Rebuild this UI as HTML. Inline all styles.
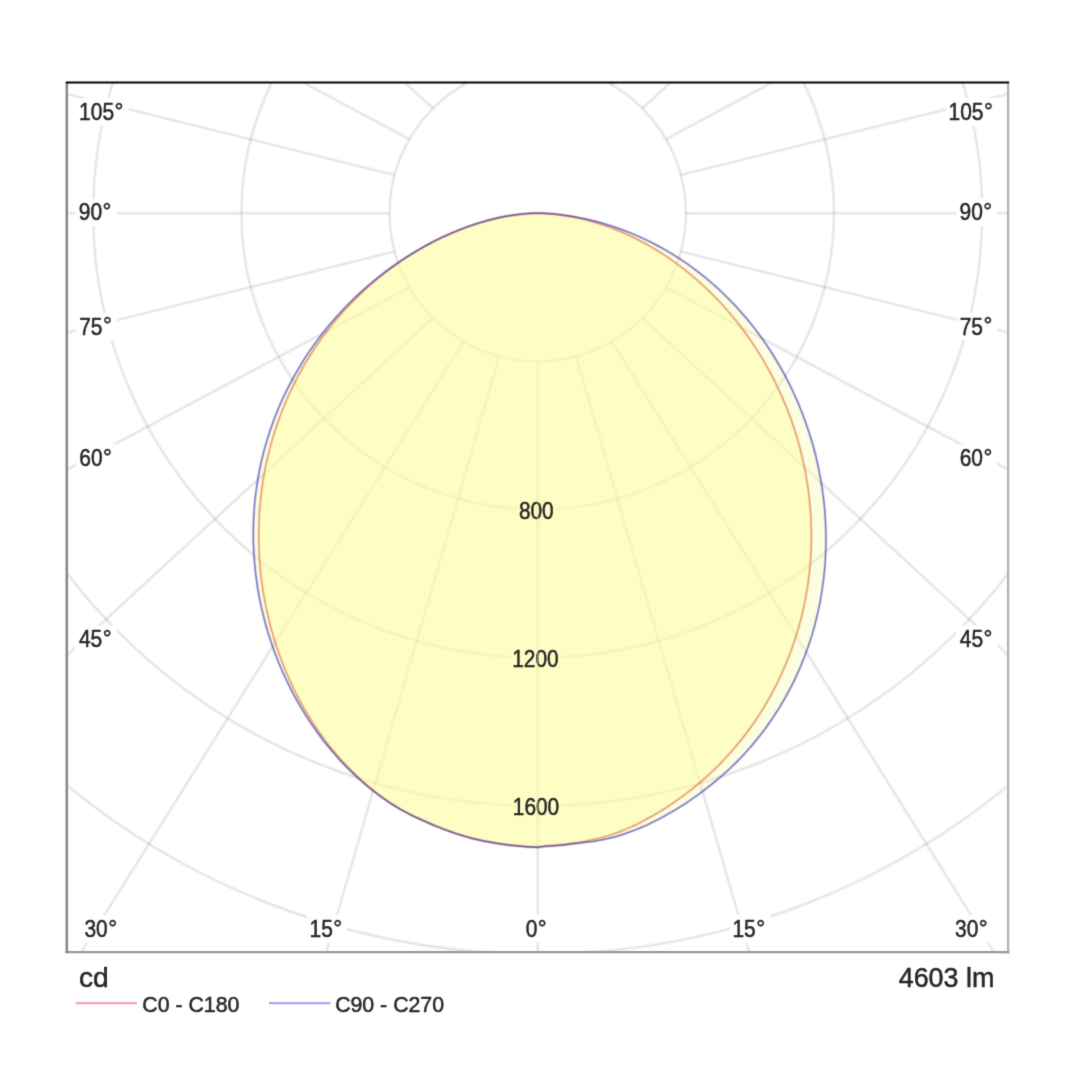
<!DOCTYPE html>
<html lang="en">
<head>
<meta charset="utf-8">
<title>Luminous intensity distribution</title>
<style>
html,body{margin:0;padding:0;background:#fff}
body{width:1080px;height:1080px;overflow:hidden}
svg{display:block}
text{font-family:"Liberation Sans",Arial,Helvetica,sans-serif;fill:#262626;stroke:#262626;stroke-width:0.5;stroke-linejoin:round}
</style>
</head>
<body>
<svg width="1080" height="1080" viewBox="0 0 1080 1080" role="img" aria-label="Polar luminous intensity distribution diagram">
<defs>
<clipPath id="fr"><rect x="66.8" y="82.5" width="941.3" height="869.7"/></clipPath>
<filter id="soft" x="0" y="0" width="1080" height="1080" filterUnits="userSpaceOnUse" color-interpolation-filters="sRGB"><feConvolveMatrix order="3" kernelMatrix="1 6 1 6 36 6 1 6 1" divisor="64" edgeMode="duplicate" preserveAlpha="true"/></filter>
</defs>
<rect width="1080" height="1080" fill="#fff"/>
<g id="chart">
<rect width="1080" height="1080" fill="#fff"/>
<g clip-path="url(#fr)">
<g fill="none" stroke="#000" stroke-opacity="0.044" stroke-width="3.6"><circle cx="537.7" cy="213.2" r="148.2"/><circle cx="537.7" cy="213.2" r="296.3"/><circle cx="537.7" cy="213.2" r="444.5"/><circle cx="537.7" cy="213.2" r="592.6"/><circle cx="537.7" cy="213.2" r="740.8"/></g>
<g fill="none" stroke="#000" stroke-opacity="0.066" stroke-width="1.5"><circle cx="537.7" cy="213.2" r="148.2"/><circle cx="537.7" cy="213.2" r="296.3"/><circle cx="537.7" cy="213.2" r="444.5"/><circle cx="537.7" cy="213.2" r="592.6"/><circle cx="537.7" cy="213.2" r="740.8"/></g>
<rect x="516.9" y="498.6" width="38.7" height="25.5" fill="#fff"/>
<rect x="510.3" y="647.0" width="50.5" height="25.5" fill="#fff"/>
<rect x="511.4" y="794.8" width="49.4" height="25.5" fill="#fff"/>
<g fill="none" stroke="#000" stroke-opacity="0.044" stroke-width="3.6"><line x1="499.4" y1="70.1" x2="137.0" y2="-1176.7"/><line x1="463.6" y1="84.9" x2="-236.4" y2="-1033.0"/><line x1="432.9" y1="108.4" x2="-557.0" y2="-804.3"/><line x1="409.4" y1="139.1" x2="-803.0" y2="-506.3"/><line x1="394.6" y1="174.9" x2="-957.7" y2="-159.2"/><line x1="389.6" y1="213.2" x2="-1010.4" y2="213.2"/><line x1="394.6" y1="251.5" x2="-957.7" y2="585.6"/><line x1="409.4" y1="287.3" x2="-803.0" y2="932.7"/><line x1="432.9" y1="318.0" x2="-557.0" y2="1230.7"/><line x1="463.6" y1="341.5" x2="-236.4" y2="1459.4"/><line x1="499.4" y1="356.3" x2="137.0" y2="1603.1"/><line x1="537.7" y1="361.4" x2="537.7" y2="1652.2"/><line x1="576.0" y1="356.3" x2="938.4" y2="1603.1"/><line x1="611.8" y1="341.5" x2="1311.8" y2="1459.4"/><line x1="642.5" y1="318.0" x2="1632.4" y2="1230.7"/><line x1="666.0" y1="287.3" x2="1878.4" y2="932.7"/><line x1="680.8" y1="251.5" x2="2033.1" y2="585.6"/><line x1="685.9" y1="213.2" x2="2085.8" y2="213.2"/><line x1="680.8" y1="174.9" x2="2033.1" y2="-159.2"/><line x1="666.0" y1="139.1" x2="1878.4" y2="-506.3"/><line x1="642.5" y1="108.4" x2="1632.4" y2="-804.3"/><line x1="611.8" y1="84.9" x2="1311.8" y2="-1033.0"/><line x1="576.0" y1="70.1" x2="938.4" y2="-1176.7"/><line x1="537.7" y1="65.0" x2="537.7" y2="-1225.8"/></g>
<g fill="none" stroke="#000" stroke-opacity="0.066" stroke-width="1.5"><line x1="499.4" y1="70.1" x2="137.0" y2="-1176.7"/><line x1="463.6" y1="84.9" x2="-236.4" y2="-1033.0"/><line x1="432.9" y1="108.4" x2="-557.0" y2="-804.3"/><line x1="409.4" y1="139.1" x2="-803.0" y2="-506.3"/><line x1="394.6" y1="174.9" x2="-957.7" y2="-159.2"/><line x1="389.6" y1="213.2" x2="-1010.4" y2="213.2"/><line x1="394.6" y1="251.5" x2="-957.7" y2="585.6"/><line x1="409.4" y1="287.3" x2="-803.0" y2="932.7"/><line x1="432.9" y1="318.0" x2="-557.0" y2="1230.7"/><line x1="463.6" y1="341.5" x2="-236.4" y2="1459.4"/><line x1="499.4" y1="356.3" x2="137.0" y2="1603.1"/><line x1="537.7" y1="361.4" x2="537.7" y2="1652.2"/><line x1="576.0" y1="356.3" x2="938.4" y2="1603.1"/><line x1="611.8" y1="341.5" x2="1311.8" y2="1459.4"/><line x1="642.5" y1="318.0" x2="1632.4" y2="1230.7"/><line x1="666.0" y1="287.3" x2="1878.4" y2="932.7"/><line x1="680.8" y1="251.5" x2="2033.1" y2="585.6"/><line x1="685.9" y1="213.2" x2="2085.8" y2="213.2"/><line x1="680.8" y1="174.9" x2="2033.1" y2="-159.2"/><line x1="666.0" y1="139.1" x2="1878.4" y2="-506.3"/><line x1="642.5" y1="108.4" x2="1632.4" y2="-804.3"/><line x1="611.8" y1="84.9" x2="1311.8" y2="-1033.0"/><line x1="576.0" y1="70.1" x2="938.4" y2="-1176.7"/><line x1="537.7" y1="65.0" x2="537.7" y2="-1225.8"/></g>
<rect x="76.5" y="98.1" width="52.0" height="27.8" fill="#fff"/>
<text transform="translate(79.09 120.00) scale(0.9000 1)" font-size="23.30" stroke-width="0.75">105<tspan font-size="24.70" dx="0.47" dy="-1.28">°</tspan></text>
<rect x="75.4" y="198.3" width="41.3" height="27.8" fill="#fff"/>
<text transform="translate(78.79 220.11) scale(0.9000 1)" font-size="23.30" stroke-width="0.75">90<tspan font-size="24.70" dx="0.47" dy="-1.28">°</tspan></text>
<rect x="76.1" y="312.8" width="40.8" height="27.8" fill="#fff"/>
<text transform="translate(79.21 334.63) scale(0.9000 1)" font-size="23.30" stroke-width="0.75">75<tspan font-size="24.70" dx="0.47" dy="-1.28">°</tspan></text>
<rect x="76.1" y="444.3" width="40.8" height="27.8" fill="#fff"/>
<text transform="translate(79.23 466.19) scale(0.9000 1)" font-size="23.30" stroke-width="0.75">60<tspan font-size="24.70" dx="0.47" dy="-1.28">°</tspan></text>
<rect x="74.8" y="625.6" width="42.1" height="27.8" fill="#fff"/>
<text transform="translate(78.92 647.48) scale(0.9000 1)" font-size="23.30" stroke-width="0.75">45<tspan font-size="24.70" dx="0.47" dy="-1.28">°</tspan></text>
<rect x="81.1" y="915.2" width="41.2" height="27.8" fill="#fff"/>
<text transform="translate(84.44 936.81) scale(0.9000 1)" font-size="23.30" stroke-width="0.75">30<tspan font-size="24.70" dx="0.47" dy="-1.28">°</tspan></text>
<rect x="307.1" y="914.9" width="39.9" height="27.8" fill="#fff"/>
<text transform="translate(309.50 936.81) scale(0.9000 1)" font-size="23.30" stroke-width="0.75">15<tspan font-size="24.70" dx="0.47" dy="-1.28">°</tspan></text>
<rect x="521.9" y="914.9" width="30.2" height="27.8" fill="#fff"/>
<text transform="translate(525.65 936.81) scale(0.9000 1)" font-size="23.30" stroke-width="0.75">0<tspan font-size="24.70" dx="0.47" dy="-1.28">°</tspan></text>
<rect x="946.2" y="98.1" width="51.5" height="27.8" fill="#fff"/>
<text transform="translate(948.54 120.00) scale(0.9000 1)" font-size="23.30" stroke-width="0.75">105<tspan font-size="24.70" dx="0.47" dy="-1.28">°</tspan></text>
<rect x="956.5" y="198.2" width="40.6" height="27.8" fill="#fff"/>
<text transform="translate(959.54 220.11) scale(0.9000 1)" font-size="23.30" stroke-width="0.75">90<tspan font-size="24.70" dx="0.47" dy="-1.28">°</tspan></text>
<rect x="956.8" y="312.6" width="40.3" height="27.8" fill="#fff"/>
<text transform="translate(959.66 334.63) scale(0.9000 1)" font-size="23.30" stroke-width="0.75">75<tspan font-size="24.70" dx="0.47" dy="-1.28">°</tspan></text>
<rect x="956.8" y="444.3" width="40.3" height="27.8" fill="#fff"/>
<text transform="translate(959.68 466.19) scale(0.9000 1)" font-size="23.30" stroke-width="0.75">60<tspan font-size="24.70" dx="0.47" dy="-1.28">°</tspan></text>
<rect x="956.0" y="625.6" width="41.3" height="27.8" fill="#fff"/>
<text transform="translate(959.72 647.48) scale(0.9000 1)" font-size="23.30" stroke-width="0.75">45<tspan font-size="24.70" dx="0.47" dy="-1.28">°</tspan></text>
<rect x="951.6" y="914.8" width="41.4" height="27.8" fill="#fff"/>
<text transform="translate(955.04 936.81) scale(0.9000 1)" font-size="23.30" stroke-width="0.75">30<tspan font-size="24.70" dx="0.47" dy="-1.28">°</tspan></text>
<rect x="730.0" y="914.9" width="39.9" height="27.8" fill="#fff"/>
<text transform="translate(732.40 936.81) scale(0.9000 1)" font-size="23.30" stroke-width="0.75">15<tspan font-size="24.70" dx="0.47" dy="-1.28">°</tspan></text>
<path d="M537.7 213.2 L533.3 213.3 L527.9 213.5 L522.1 214.0 L516.0 214.7 L509.7 215.7 L503.2 216.8 L496.4 218.3 L489.4 220.0 L482.2 222.0 L474.8 224.3 L467.2 226.9 L459.4 229.9 L451.5 233.1 L443.5 236.7 L435.3 240.7 L427.0 245.0 L418.7 249.7 L410.3 254.7 L402.0 260.0 L393.6 265.8 L385.3 271.8 L377.0 278.3 L368.9 285.0 L360.8 292.1 L353.0 299.5 L345.3 307.3 L337.8 315.3 L330.5 323.6 L323.5 332.2 L316.7 341.1 L310.2 350.2 L304.0 359.5 L298.2 369.1 L292.6 378.9 L287.4 388.9 L282.5 399.0 L278.0 409.3 L273.9 419.8 L270.1 430.4 L266.7 441.1 L263.7 451.9 L261.0 462.9 L258.8 473.9 L256.9 485.0 L255.4 496.1 L254.3 507.3 L253.6 518.5 L253.3 529.8 L253.3 541.1 L253.8 552.3 L254.6 563.6 L255.8 574.9 L257.3 586.1 L259.3 597.3 L261.6 608.4 L264.3 619.5 L267.3 630.5 L270.8 641.3 L274.5 652.1 L278.7 662.8 L283.2 673.3 L288.1 683.7 L293.3 693.9 L298.9 704.0 L304.8 713.8 L311.0 723.4 L317.6 732.8 L324.5 742.0 L331.8 750.8 L339.3 759.4 L347.2 767.7 L355.4 775.6 L363.8 783.2 L372.6 790.4 L381.6 797.2 L390.9 803.5 L400.4 809.3 L410.2 814.5 L415.1 816.9 L420.2 819.2 L425.2 821.4 L430.3 823.7 L435.4 825.9 L440.5 827.9 L445.7 829.9 L451.0 831.8 L456.2 833.6 L461.5 835.3 L466.8 836.9 L472.1 838.3 L477.5 839.6 L482.9 840.8 L488.3 841.8 L493.8 842.8 L499.2 843.7 L504.7 844.5 L510.2 845.2 L515.7 845.8 L521.2 846.3 L526.7 846.7 L532.2 847.0 L537.7 847.2 L543.2 846.6 L548.7 846.0 L554.3 845.7 L559.8 845.3 L565.3 844.7 L570.8 844.1 L576.2 843.4 L581.7 842.8 L587.2 842.1 L592.7 841.4 L598.1 840.5 L603.5 839.4 L608.9 838.3 L614.3 837.0 L619.6 835.5 L624.9 833.7 L630.2 831.8 L635.4 829.9 L640.5 827.8 L645.7 825.6 L650.8 823.2 L655.8 820.7 L660.8 818.1 L665.7 815.4 L675.4 809.8 L685.0 803.8 L694.3 797.5 L703.3 790.8 L712.2 783.9 L720.8 776.7 L729.2 769.2 L737.2 761.4 L745.0 753.2 L752.5 744.8 L759.6 736.0 L766.5 727.0 L772.9 717.7 L779.1 708.1 L784.9 698.3 L790.3 688.3 L795.4 678.1 L800.1 667.7 L804.4 657.0 L808.3 646.3 L811.9 635.4 L815.0 624.3 L817.7 613.1 L820.1 601.9 L822.0 590.5 L823.6 579.1 L824.8 567.7 L825.5 556.2 L825.9 544.8 L825.9 533.3 L825.5 521.8 L824.8 510.4 L823.6 499.1 L822.1 487.8 L820.2 476.7 L818.0 465.6 L815.5 454.7 L812.6 443.8 L809.3 433.2 L805.8 422.7 L801.9 412.3 L797.8 402.2 L793.3 392.2 L788.6 382.4 L783.6 372.9 L778.3 363.6 L772.8 354.5 L767.0 345.6 L761.0 337.0 L754.8 328.6 L748.3 320.5 L741.6 312.7 L734.7 305.1 L727.6 297.8 L720.4 290.7 L712.9 284.0 L705.3 277.5 L697.5 271.4 L689.6 265.5 L681.5 259.9 L673.2 254.6 L664.9 249.7 L656.4 245.0 L647.8 240.7 L639.2 236.6 L630.4 232.9 L621.7 229.5 L612.9 226.5 L604.2 223.7 L595.5 221.3 L586.9 219.2 L578.4 217.5 L570.2 216.0 L562.3 214.9 L554.9 214.1 L548.0 213.6 L542.0 213.3 L537.7 213.2Z" fill="rgba(249,252,166,0.35)" stroke="none"/>
<path d="M537.7 213.2 L533.6 213.3 L528.3 213.5 L522.5 214.0 L516.3 214.7 L509.9 215.6 L503.2 216.8 L496.3 218.3 L489.2 220.0 L481.9 222.1 L474.4 224.4 L466.8 227.0 L459.0 230.0 L451.2 233.2 L443.2 236.8 L435.2 240.7 L427.1 245.0 L419.0 249.6 L410.9 254.5 L402.8 259.7 L394.8 265.3 L386.8 271.2 L379.0 277.5 L371.2 284.0 L363.6 290.9 L356.1 298.1 L348.8 305.5 L341.7 313.3 L334.8 321.3 L328.2 329.6 L321.8 338.1 L315.6 346.9 L309.7 356.0 L304.1 365.2 L298.8 374.7 L293.8 384.4 L289.1 394.2 L284.7 404.3 L280.6 414.5 L276.9 424.9 L273.5 435.4 L270.4 446.1 L267.7 456.9 L265.3 467.7 L263.3 478.7 L261.7 489.8 L260.4 501.0 L259.4 512.3 L258.9 523.6 L258.7 534.9 L258.8 546.3 L259.4 557.7 L260.3 569.1 L261.5 580.5 L263.2 591.9 L265.2 603.2 L267.6 614.5 L270.3 625.8 L273.5 637.0 L277.0 648.0 L280.9 659.0 L285.1 669.8 L289.8 680.5 L294.8 691.0 L300.1 701.4 L305.8 711.5 L311.9 721.4 L318.4 731.1 L325.1 740.5 L332.3 749.6 L339.7 758.4 L347.5 766.8 L355.6 774.9 L364.0 782.7 L372.7 790.1 L381.6 797.0 L390.9 803.4 L400.4 809.3 L410.2 814.6 L415.1 817.0 L420.1 819.3 L425.2 821.6 L430.3 823.8 L435.4 826.0 L440.5 828.1 L445.7 830.1 L450.9 831.9 L456.2 833.7 L461.5 835.4 L466.8 837.0 L472.1 838.4 L477.5 839.7 L482.9 840.9 L488.3 841.9 L493.8 842.9 L499.2 843.7 L504.7 844.5 L510.2 845.2 L515.7 845.8 L521.2 846.3 L526.7 846.7 L532.2 847.0 L537.7 847.2 L543.2 846.6 L548.7 846.0 L554.3 845.5 L559.8 845.0 L565.3 844.4 L570.7 843.6 L576.2 842.7 L581.7 841.9 L587.1 840.9 L592.5 839.8 L597.9 838.6 L603.3 837.1 L608.6 835.6 L613.9 833.9 L619.2 832.0 L624.4 829.9 L629.5 827.6 L634.6 825.3 L639.7 822.8 L644.7 820.2 L649.7 817.5 L654.6 814.7 L659.5 811.8 L664.3 808.8 L673.8 802.6 L683.0 796.0 L692.0 789.1 L700.8 781.9 L709.3 774.3 L717.5 766.5 L725.4 758.3 L733.0 749.8 L740.3 741.0 L747.3 732.0 L754.0 722.7 L760.3 713.1 L766.3 703.4 L771.9 693.4 L777.2 683.2 L782.1 672.8 L786.6 662.3 L790.8 651.6 L794.6 640.8 L798.0 629.8 L801.1 618.7 L803.7 607.6 L805.9 596.3 L807.8 585.0 L809.3 573.6 L810.4 562.2 L811.1 550.8 L811.4 539.4 L811.3 527.9 L810.9 516.6 L810.0 505.2 L808.8 494.0 L807.3 482.8 L805.3 471.6 L803.0 460.6 L800.4 449.8 L797.5 439.0 L794.2 428.4 L790.6 418.0 L786.7 407.7 L782.4 397.6 L777.9 387.8 L773.2 378.1 L768.1 368.6 L762.9 359.4 L757.3 350.4 L751.6 341.7 L745.6 333.2 L739.5 325.0 L733.1 317.1 L726.6 309.4 L719.9 302.1 L713.1 295.0 L706.1 288.2 L699.0 281.7 L691.8 275.5 L684.6 269.6 L677.2 264.0 L669.8 258.7 L662.3 253.7 L654.7 249.0 L647.2 244.6 L639.6 240.5 L632.0 236.7 L624.4 233.2 L616.8 230.0 L609.3 227.1 L601.8 224.5 L594.4 222.2 L587.1 220.1 L580.0 218.4 L572.9 216.9 L566.0 215.7 L559.4 214.7 L553.0 214.0 L547.1 213.5 L541.7 213.3 L537.7 213.2Z" fill="rgba(255,252,160,0.45)" stroke="none"/>
<text transform="translate(518.91 518.84) scale(0.8950 1)" font-size="23.30" stroke-width="0.7" fill="#3e3a14" stroke="#3e3a14">800</text>
<text transform="translate(512.25 667.12) scale(0.8950 1)" font-size="23.30" stroke-width="0.7" fill="#3e3a14" stroke="#3e3a14">1200</text>
<text transform="translate(512.80 814.92) scale(0.8950 1)" font-size="23.30" stroke-width="0.7" fill="#3e3a14" stroke="#3e3a14">1600</text>
<line x1="537.7" y1="500.9" x2="537.7" y2="521.4" stroke="#e8e6b0" stroke-width="1.5" stroke-opacity="0.45"/>
<line x1="537.7" y1="649.6" x2="537.7" y2="669.3" stroke="#e8e6b0" stroke-width="1.5" stroke-opacity="0.45"/>
<line x1="537.7" y1="797.4" x2="537.7" y2="817.1" stroke="#e8e6b0" stroke-width="1.5" stroke-opacity="0.45"/>
<path d="M537.7 213.2 L533.6 213.3 L528.3 213.5 L522.5 214.0 L516.3 214.7 L509.9 215.6 L503.2 216.8 L496.3 218.3 L489.2 220.0 L481.9 222.1 L474.4 224.4 L466.8 227.0 L459.0 230.0 L451.2 233.2 L443.2 236.8 L435.2 240.7 L427.1 245.0 L419.0 249.6 L410.9 254.5 L402.8 259.7 L394.8 265.3 L386.8 271.2 L379.0 277.5 L371.2 284.0 L363.6 290.9 L356.1 298.1 L348.8 305.5 L341.7 313.3 L334.8 321.3 L328.2 329.6 L321.8 338.1 L315.6 346.9 L309.7 356.0 L304.1 365.2 L298.8 374.7 L293.8 384.4 L289.1 394.2 L284.7 404.3 L280.6 414.5 L276.9 424.9 L273.5 435.4 L270.4 446.1 L267.7 456.9 L265.3 467.7 L263.3 478.7 L261.7 489.8 L260.4 501.0 L259.4 512.3 L258.9 523.6 L258.7 534.9 L258.8 546.3 L259.4 557.7 L260.3 569.1 L261.5 580.5 L263.2 591.9 L265.2 603.2 L267.6 614.5 L270.3 625.8 L273.5 637.0 L277.0 648.0 L280.9 659.0 L285.1 669.8 L289.8 680.5 L294.8 691.0 L300.1 701.4 L305.8 711.5 L311.9 721.4 L318.4 731.1 L325.1 740.5 L332.3 749.6 L339.7 758.4 L347.5 766.8 L355.6 774.9 L364.0 782.7 L372.7 790.1 L381.6 797.0 L390.9 803.4 L400.4 809.3 L410.2 814.6 L415.1 817.0 L420.1 819.3 L425.2 821.6 L430.3 823.8 L435.4 826.0 L440.5 828.1 L445.7 830.1 L450.9 831.9 L456.2 833.7 L461.5 835.4 L466.8 837.0 L472.1 838.4 L477.5 839.7 L482.9 840.9 L488.3 841.9 L493.8 842.9 L499.2 843.7 L504.7 844.5 L510.2 845.2 L515.7 845.8 L521.2 846.3 L526.7 846.7 L532.2 847.0 L537.7 847.2 L543.2 846.6 L548.7 846.0 L554.3 845.5 L559.8 845.0 L565.3 844.4 L570.7 843.6 L576.2 842.7 L581.7 841.9 L587.1 840.9 L592.5 839.8 L597.9 838.6 L603.3 837.1 L608.6 835.6 L613.9 833.9 L619.2 832.0 L624.4 829.9 L629.5 827.6 L634.6 825.3 L639.7 822.8 L644.7 820.2 L649.7 817.5 L654.6 814.7 L659.5 811.8 L664.3 808.8 L673.8 802.6 L683.0 796.0 L692.0 789.1 L700.8 781.9 L709.3 774.3 L717.5 766.5 L725.4 758.3 L733.0 749.8 L740.3 741.0 L747.3 732.0 L754.0 722.7 L760.3 713.1 L766.3 703.4 L771.9 693.4 L777.2 683.2 L782.1 672.8 L786.6 662.3 L790.8 651.6 L794.6 640.8 L798.0 629.8 L801.1 618.7 L803.7 607.6 L805.9 596.3 L807.8 585.0 L809.3 573.6 L810.4 562.2 L811.1 550.8 L811.4 539.4 L811.3 527.9 L810.9 516.6 L810.0 505.2 L808.8 494.0 L807.3 482.8 L805.3 471.6 L803.0 460.6 L800.4 449.8 L797.5 439.0 L794.2 428.4 L790.6 418.0 L786.7 407.7 L782.4 397.6 L777.9 387.8 L773.2 378.1 L768.1 368.6 L762.9 359.4 L757.3 350.4 L751.6 341.7 L745.6 333.2 L739.5 325.0 L733.1 317.1 L726.6 309.4 L719.9 302.1 L713.1 295.0 L706.1 288.2 L699.0 281.7 L691.8 275.5 L684.6 269.6 L677.2 264.0 L669.8 258.7 L662.3 253.7 L654.7 249.0 L647.2 244.6 L639.6 240.5 L632.0 236.7 L624.4 233.2 L616.8 230.0 L609.3 227.1 L601.8 224.5 L594.4 222.2 L587.1 220.1 L580.0 218.4 L572.9 216.9 L566.0 215.7 L559.4 214.7 L553.0 214.0 L547.1 213.5 L541.7 213.3 L537.7 213.2Z" fill="none" stroke="#dd6a40" stroke-opacity="0.14" stroke-width="3.0" stroke-linejoin="miter"/>
<path d="M537.7 213.2 L533.3 213.3 L527.9 213.5 L522.1 214.0 L516.0 214.7 L509.7 215.7 L503.2 216.8 L496.4 218.3 L489.4 220.0 L482.2 222.0 L474.8 224.3 L467.2 226.9 L459.4 229.9 L451.5 233.1 L443.5 236.7 L435.3 240.7 L427.0 245.0 L418.7 249.7 L410.3 254.7 L402.0 260.0 L393.6 265.8 L385.3 271.8 L377.0 278.3 L368.9 285.0 L360.8 292.1 L353.0 299.5 L345.3 307.3 L337.8 315.3 L330.5 323.6 L323.5 332.2 L316.7 341.1 L310.2 350.2 L304.0 359.5 L298.2 369.1 L292.6 378.9 L287.4 388.9 L282.5 399.0 L278.0 409.3 L273.9 419.8 L270.1 430.4 L266.7 441.1 L263.7 451.9 L261.0 462.9 L258.8 473.9 L256.9 485.0 L255.4 496.1 L254.3 507.3 L253.6 518.5 L253.3 529.8 L253.3 541.1 L253.8 552.3 L254.6 563.6 L255.8 574.9 L257.3 586.1 L259.3 597.3 L261.6 608.4 L264.3 619.5 L267.3 630.5 L270.8 641.3 L274.5 652.1 L278.7 662.8 L283.2 673.3 L288.1 683.7 L293.3 693.9 L298.9 704.0 L304.8 713.8 L311.0 723.4 L317.6 732.8 L324.5 742.0 L331.8 750.8 L339.3 759.4 L347.2 767.7 L355.4 775.6 L363.8 783.2 L372.6 790.4 L381.6 797.2 L390.9 803.5 L400.4 809.3 L410.2 814.5 L415.1 816.9 L420.2 819.2 L425.2 821.4 L430.3 823.7 L435.4 825.9 L440.5 827.9 L445.7 829.9 L451.0 831.8 L456.2 833.6 L461.5 835.3 L466.8 836.9 L472.1 838.3 L477.5 839.6 L482.9 840.8 L488.3 841.8 L493.8 842.8 L499.2 843.7 L504.7 844.5 L510.2 845.2 L515.7 845.8 L521.2 846.3 L526.7 846.7 L532.2 847.0 L537.7 847.2 L543.2 846.6 L548.7 846.0 L554.3 845.7 L559.8 845.3 L565.3 844.7 L570.8 844.1 L576.2 843.4 L581.7 842.8 L587.2 842.1 L592.7 841.4 L598.1 840.5 L603.5 839.4 L608.9 838.3 L614.3 837.0 L619.6 835.5 L624.9 833.7 L630.2 831.8 L635.4 829.9 L640.5 827.8 L645.7 825.6 L650.8 823.2 L655.8 820.7 L660.8 818.1 L665.7 815.4 L675.4 809.8 L685.0 803.8 L694.3 797.5 L703.3 790.8 L712.2 783.9 L720.8 776.7 L729.2 769.2 L737.2 761.4 L745.0 753.2 L752.5 744.8 L759.6 736.0 L766.5 727.0 L772.9 717.7 L779.1 708.1 L784.9 698.3 L790.3 688.3 L795.4 678.1 L800.1 667.7 L804.4 657.0 L808.3 646.3 L811.9 635.4 L815.0 624.3 L817.7 613.1 L820.1 601.9 L822.0 590.5 L823.6 579.1 L824.8 567.7 L825.5 556.2 L825.9 544.8 L825.9 533.3 L825.5 521.8 L824.8 510.4 L823.6 499.1 L822.1 487.8 L820.2 476.7 L818.0 465.6 L815.5 454.7 L812.6 443.8 L809.3 433.2 L805.8 422.7 L801.9 412.3 L797.8 402.2 L793.3 392.2 L788.6 382.4 L783.6 372.9 L778.3 363.6 L772.8 354.5 L767.0 345.6 L761.0 337.0 L754.8 328.6 L748.3 320.5 L741.6 312.7 L734.7 305.1 L727.6 297.8 L720.4 290.7 L712.9 284.0 L705.3 277.5 L697.5 271.4 L689.6 265.5 L681.5 259.9 L673.2 254.6 L664.9 249.7 L656.4 245.0 L647.8 240.7 L639.2 236.6 L630.4 232.9 L621.7 229.5 L612.9 226.5 L604.2 223.7 L595.5 221.3 L586.9 219.2 L578.4 217.5 L570.2 216.0 L562.3 214.9 L554.9 214.1 L548.0 213.6 L542.0 213.3 L537.7 213.2Z" fill="none" stroke="#3030b0" stroke-opacity="0.14" stroke-width="3.0" stroke-linejoin="miter"/>
<path d="M537.7 213.2 L533.6 213.3 L528.3 213.5 L522.5 214.0 L516.3 214.7 L509.9 215.6 L503.2 216.8 L496.3 218.3 L489.2 220.0 L481.9 222.1 L474.4 224.4 L466.8 227.0 L459.0 230.0 L451.2 233.2 L443.2 236.8 L435.2 240.7 L427.1 245.0 L419.0 249.6 L410.9 254.5 L402.8 259.7 L394.8 265.3 L386.8 271.2 L379.0 277.5 L371.2 284.0 L363.6 290.9 L356.1 298.1 L348.8 305.5 L341.7 313.3 L334.8 321.3 L328.2 329.6 L321.8 338.1 L315.6 346.9 L309.7 356.0 L304.1 365.2 L298.8 374.7 L293.8 384.4 L289.1 394.2 L284.7 404.3 L280.6 414.5 L276.9 424.9 L273.5 435.4 L270.4 446.1 L267.7 456.9 L265.3 467.7 L263.3 478.7 L261.7 489.8 L260.4 501.0 L259.4 512.3 L258.9 523.6 L258.7 534.9 L258.8 546.3 L259.4 557.7 L260.3 569.1 L261.5 580.5 L263.2 591.9 L265.2 603.2 L267.6 614.5 L270.3 625.8 L273.5 637.0 L277.0 648.0 L280.9 659.0 L285.1 669.8 L289.8 680.5 L294.8 691.0 L300.1 701.4 L305.8 711.5 L311.9 721.4 L318.4 731.1 L325.1 740.5 L332.3 749.6 L339.7 758.4 L347.5 766.8 L355.6 774.9 L364.0 782.7 L372.7 790.1 L381.6 797.0 L390.9 803.4 L400.4 809.3 L410.2 814.6 L415.1 817.0 L420.1 819.3 L425.2 821.6 L430.3 823.8 L435.4 826.0 L440.5 828.1 L445.7 830.1 L450.9 831.9 L456.2 833.7 L461.5 835.4 L466.8 837.0 L472.1 838.4 L477.5 839.7 L482.9 840.9 L488.3 841.9 L493.8 842.9 L499.2 843.7 L504.7 844.5 L510.2 845.2 L515.7 845.8 L521.2 846.3 L526.7 846.7 L532.2 847.0 L537.7 847.2 L543.2 846.6 L548.7 846.0 L554.3 845.5 L559.8 845.0 L565.3 844.4 L570.7 843.6 L576.2 842.7 L581.7 841.9 L587.1 840.9 L592.5 839.8 L597.9 838.6 L603.3 837.1 L608.6 835.6 L613.9 833.9 L619.2 832.0 L624.4 829.9 L629.5 827.6 L634.6 825.3 L639.7 822.8 L644.7 820.2 L649.7 817.5 L654.6 814.7 L659.5 811.8 L664.3 808.8 L673.8 802.6 L683.0 796.0 L692.0 789.1 L700.8 781.9 L709.3 774.3 L717.5 766.5 L725.4 758.3 L733.0 749.8 L740.3 741.0 L747.3 732.0 L754.0 722.7 L760.3 713.1 L766.3 703.4 L771.9 693.4 L777.2 683.2 L782.1 672.8 L786.6 662.3 L790.8 651.6 L794.6 640.8 L798.0 629.8 L801.1 618.7 L803.7 607.6 L805.9 596.3 L807.8 585.0 L809.3 573.6 L810.4 562.2 L811.1 550.8 L811.4 539.4 L811.3 527.9 L810.9 516.6 L810.0 505.2 L808.8 494.0 L807.3 482.8 L805.3 471.6 L803.0 460.6 L800.4 449.8 L797.5 439.0 L794.2 428.4 L790.6 418.0 L786.7 407.7 L782.4 397.6 L777.9 387.8 L773.2 378.1 L768.1 368.6 L762.9 359.4 L757.3 350.4 L751.6 341.7 L745.6 333.2 L739.5 325.0 L733.1 317.1 L726.6 309.4 L719.9 302.1 L713.1 295.0 L706.1 288.2 L699.0 281.7 L691.8 275.5 L684.6 269.6 L677.2 264.0 L669.8 258.7 L662.3 253.7 L654.7 249.0 L647.2 244.6 L639.6 240.5 L632.0 236.7 L624.4 233.2 L616.8 230.0 L609.3 227.1 L601.8 224.5 L594.4 222.2 L587.1 220.1 L580.0 218.4 L572.9 216.9 L566.0 215.7 L559.4 214.7 L553.0 214.0 L547.1 213.5 L541.7 213.3 L537.7 213.2Z" fill="none" stroke="#dd6a40" stroke-opacity="0.56" stroke-width="1.5" stroke-linejoin="miter"/>
<path d="M537.7 213.2 L533.3 213.3 L527.9 213.5 L522.1 214.0 L516.0 214.7 L509.7 215.7 L503.2 216.8 L496.4 218.3 L489.4 220.0 L482.2 222.0 L474.8 224.3 L467.2 226.9 L459.4 229.9 L451.5 233.1 L443.5 236.7 L435.3 240.7 L427.0 245.0 L418.7 249.7 L410.3 254.7 L402.0 260.0 L393.6 265.8 L385.3 271.8 L377.0 278.3 L368.9 285.0 L360.8 292.1 L353.0 299.5 L345.3 307.3 L337.8 315.3 L330.5 323.6 L323.5 332.2 L316.7 341.1 L310.2 350.2 L304.0 359.5 L298.2 369.1 L292.6 378.9 L287.4 388.9 L282.5 399.0 L278.0 409.3 L273.9 419.8 L270.1 430.4 L266.7 441.1 L263.7 451.9 L261.0 462.9 L258.8 473.9 L256.9 485.0 L255.4 496.1 L254.3 507.3 L253.6 518.5 L253.3 529.8 L253.3 541.1 L253.8 552.3 L254.6 563.6 L255.8 574.9 L257.3 586.1 L259.3 597.3 L261.6 608.4 L264.3 619.5 L267.3 630.5 L270.8 641.3 L274.5 652.1 L278.7 662.8 L283.2 673.3 L288.1 683.7 L293.3 693.9 L298.9 704.0 L304.8 713.8 L311.0 723.4 L317.6 732.8 L324.5 742.0 L331.8 750.8 L339.3 759.4 L347.2 767.7 L355.4 775.6 L363.8 783.2 L372.6 790.4 L381.6 797.2 L390.9 803.5 L400.4 809.3 L410.2 814.5 L415.1 816.9 L420.2 819.2 L425.2 821.4 L430.3 823.7 L435.4 825.9 L440.5 827.9 L445.7 829.9 L451.0 831.8 L456.2 833.6 L461.5 835.3 L466.8 836.9 L472.1 838.3 L477.5 839.6 L482.9 840.8 L488.3 841.8 L493.8 842.8 L499.2 843.7 L504.7 844.5 L510.2 845.2 L515.7 845.8 L521.2 846.3 L526.7 846.7 L532.2 847.0 L537.7 847.2 L543.2 846.6 L548.7 846.0 L554.3 845.7 L559.8 845.3 L565.3 844.7 L570.8 844.1 L576.2 843.4 L581.7 842.8 L587.2 842.1 L592.7 841.4 L598.1 840.5 L603.5 839.4 L608.9 838.3 L614.3 837.0 L619.6 835.5 L624.9 833.7 L630.2 831.8 L635.4 829.9 L640.5 827.8 L645.7 825.6 L650.8 823.2 L655.8 820.7 L660.8 818.1 L665.7 815.4 L675.4 809.8 L685.0 803.8 L694.3 797.5 L703.3 790.8 L712.2 783.9 L720.8 776.7 L729.2 769.2 L737.2 761.4 L745.0 753.2 L752.5 744.8 L759.6 736.0 L766.5 727.0 L772.9 717.7 L779.1 708.1 L784.9 698.3 L790.3 688.3 L795.4 678.1 L800.1 667.7 L804.4 657.0 L808.3 646.3 L811.9 635.4 L815.0 624.3 L817.7 613.1 L820.1 601.9 L822.0 590.5 L823.6 579.1 L824.8 567.7 L825.5 556.2 L825.9 544.8 L825.9 533.3 L825.5 521.8 L824.8 510.4 L823.6 499.1 L822.1 487.8 L820.2 476.7 L818.0 465.6 L815.5 454.7 L812.6 443.8 L809.3 433.2 L805.8 422.7 L801.9 412.3 L797.8 402.2 L793.3 392.2 L788.6 382.4 L783.6 372.9 L778.3 363.6 L772.8 354.5 L767.0 345.6 L761.0 337.0 L754.8 328.6 L748.3 320.5 L741.6 312.7 L734.7 305.1 L727.6 297.8 L720.4 290.7 L712.9 284.0 L705.3 277.5 L697.5 271.4 L689.6 265.5 L681.5 259.9 L673.2 254.6 L664.9 249.7 L656.4 245.0 L647.8 240.7 L639.2 236.6 L630.4 232.9 L621.7 229.5 L612.9 226.5 L604.2 223.7 L595.5 221.3 L586.9 219.2 L578.4 217.5 L570.2 216.0 L562.3 214.9 L554.9 214.1 L548.0 213.6 L542.0 213.3 L537.7 213.2Z" fill="none" stroke="#3030b0" stroke-opacity="0.56" stroke-width="1.5" stroke-linejoin="miter"/>
</g>
<line x1="1008.1" y1="82.5" x2="1008.1" y2="953.4000000000001" stroke="#b2b2b2" stroke-width="2.3"/>
<line x1="65.6" y1="952.2" x2="1009.3000000000001" y2="952.2" stroke="#989898" stroke-width="2.2"/>
<line x1="66.8" y1="82.5" x2="66.8" y2="953.3000000000001" stroke="#848484" stroke-width="2.4"/>
<line x1="65.8" y1="82.5" x2="1009.1" y2="82.5" stroke="#000" stroke-width="2.0"/>
<text transform="translate(78.95 987.17) scale(1.0450 1)" font-size="27.00" stroke-width="0.5">cd</text>
<text transform="translate(898.75 987.17) scale(0.9950 1)" font-size="27.00" stroke-width="0.5">4603 lm</text>
<line x1="75.7" y1="1003.1" x2="136.9" y2="1003.1" stroke="#f4a4ae" stroke-width="2.3"/>
<text transform="translate(142.33 1012.03) scale(0.9960 1)" font-size="21.40" stroke-width="0.45">C0 - C180</text>
<line x1="268.9" y1="1003.1" x2="330.4" y2="1003.1" stroke="#a9a9f2" stroke-width="2.3"/>
<text transform="translate(335.13 1012.03) scale(0.9960 1)" font-size="21.40" stroke-width="0.45">C90 - C270</text>
</g>
<use href="#chart" filter="url(#soft)"/>
</svg>
</body>
</html>
